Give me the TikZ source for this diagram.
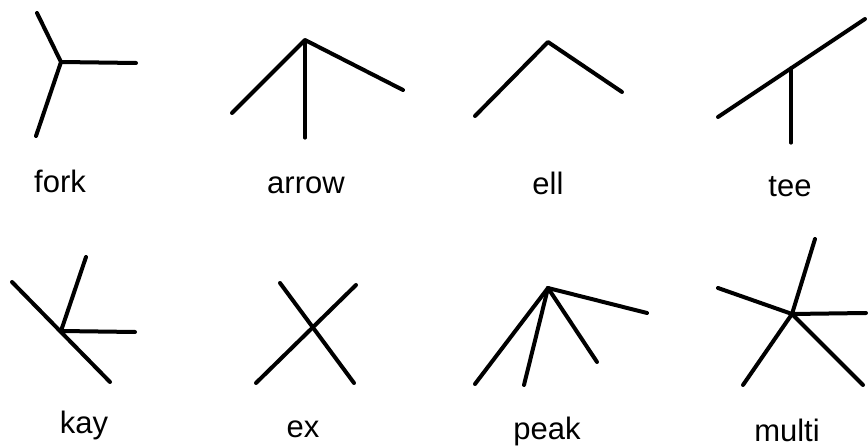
\documentclass[tikz,border=0pt]{standalone}
\usepackage{fontspec}
\setmainfont{Liberation Sans}
\begin{document}
\begin{tikzpicture}[x=1pt,y=-1pt,
  seg/.style={line width=4pt,line cap=round,line join=round},
  thinseg/.style={line width=3.2pt,line cap=round},
  lbl/.style={anchor=base,inner sep=0pt,font=\fontsize{31}{31}\selectfont}]
\useasboundingbox (0,0) rectangle (868,446);
% fork
\coordinate (fJ) at (61,62);
\coordinate (fU) at (37,13);
\coordinate (fD) at (36,136);
\coordinate (fR) at (136,63);
\draw[seg] (fU) -- (fJ) -- (fD);
\draw[seg] (fJ) -- (fR);
\node[lbl] (tfork) at (60,193) {fork};
% arrow
\coordinate (aA) at (305,40);
\coordinate (aL) at (232,113);
\coordinate (aB) at (305,138);
\coordinate (aR) at (403,90);
\draw[seg] (aL) -- (aA) -- (aR);
\draw[thinseg] (aA) -- (aB);
\node[lbl] (tarrow) at (306,194) {arrow};
% ell
\coordinate (eA) at (548,42);
\coordinate (eL) at (475,116);
\coordinate (eR) at (622,92);
\draw[seg] (eL) -- (eA) -- (eR);
\node[lbl] (tell) at (548,195) {ell};
% tee
\coordinate (tL) at (718,117);
\coordinate (tR) at (865,19);
\coordinate (tJ) at (791,68);
\coordinate (tB) at (791,143);
\draw[seg] (tL) -- (tR);
\draw[thinseg] (tJ) -- (tB);
\node[lbl] (ttee) at (790,197) {tee};
% kay
\coordinate (kUL) at (12,282);
\coordinate (kLR) at (110,382);
\coordinate (kJ) at (61,331);
\coordinate (kU) at (86,257);
\coordinate (kR) at (135,332);
\draw[seg] (kUL) -- (kLR);
\draw[seg] (kJ) -- (kU);
\draw[seg] (kJ) -- (kR);
\node[lbl] (tkay) at (84,433) {kay};
% ex
\coordinate (x1) at (280,283);
\coordinate (x2) at (354,383);
\coordinate (x3) at (356,285);
\coordinate (x4) at (256,383);
\draw[seg] (x1) -- (x2);
\draw[seg] (x3) -- (x4);
\node[lbl] (tex) at (303,437) {ex};
% peak
\coordinate (pA) at (548,288);
\coordinate (p1) at (475,384);
\coordinate (p2) at (524,385);
\coordinate (p3) at (597,362);
\coordinate (p4) at (647,313);
\draw[seg] (pA) -- (p1);
\draw[seg] (pA) -- (p2);
\draw[seg] (pA) -- (p3);
\draw[seg] (pA) -- (p4);
\node[lbl] (tpeak) at (547,439) {peak};
% multi
\coordinate (mC) at (792,314);
\coordinate (mU) at (815,239);
\coordinate (mL) at (718,288);
\coordinate (mR) at (866,313);
\coordinate (mDL) at (743,385);
\coordinate (mDR) at (863,385);
\draw[seg] (mC) -- (mU);
\draw[seg] (mC) -- (mL);
\draw[seg] (mC) -- (mR);
\draw[seg] (mC) -- (mDL);
\draw[seg] (mC) -- (mDR);
\node[lbl] (tmulti) at (787,441) {multi};
\end{tikzpicture}
\end{document}
